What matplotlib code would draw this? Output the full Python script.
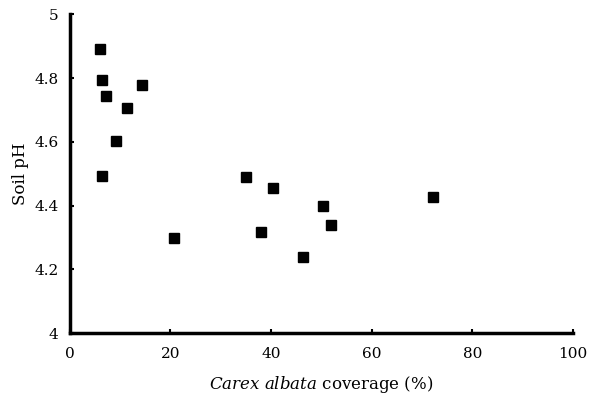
import matplotlib
matplotlib.use('Agg')
import matplotlib.pyplot as plt

# Carex albata coverage (%) vs soil pH
coverage = [6.0, 6.4, 7.2, 14.3, 11.3, 9.1, 6.4, 20.7, 35.0, 40.4, 38.0, 46.3, 50.3, 51.9, 72.2]
soil_ph = [4.89, 4.795, 4.744, 4.779, 4.706, 4.603, 4.493, 4.298, 4.49, 4.455, 4.317, 4.239, 4.40, 4.339, 4.427]

x_ticks = [0, 20, 40, 60, 80, 100]
y_ticks = [4, 4.2, 4.4, 4.6, 4.8, 5]
y_labels = ['4', '4.2', '4.4', '4.6', '4.8', '5']

plt.rcParams['font.family'] = 'DejaVu Serif'
plt.rcParams['mathtext.fontset'] = 'dejavuserif'

fig = plt.figure(figsize=(5.92, 3.99), dpi=100)
ax = fig.add_axes([0.118, 0.165, 0.85, 0.799])

ax.plot(coverage, soil_ph, 's', color='black', markersize=7, clip_on=False)

ax.set_xlim(0, 100)
ax.set_ylim(4, 5)
ax.set_xticks(x_ticks)
ax.set_yticks(y_ticks)
ax.set_yticklabels(y_labels)

for side in ['top', 'right']:
    ax.spines[side].set_visible(False)
for side in ['left', 'bottom']:
    ax.spines[side].set_linewidth(2.5)

ax.tick_params(direction='in', length=3, width=1.5, labelsize=11, pad=10)
ax.tick_params(axis='y', pad=8)

ax.set_xlabel(r'$\it{Carex\ albata}$ coverage (%)', fontsize=12, labelpad=9)
ax.set_ylabel('Soil pH', fontsize=12, labelpad=4)

fig.savefig('out.png', dpi=100)
